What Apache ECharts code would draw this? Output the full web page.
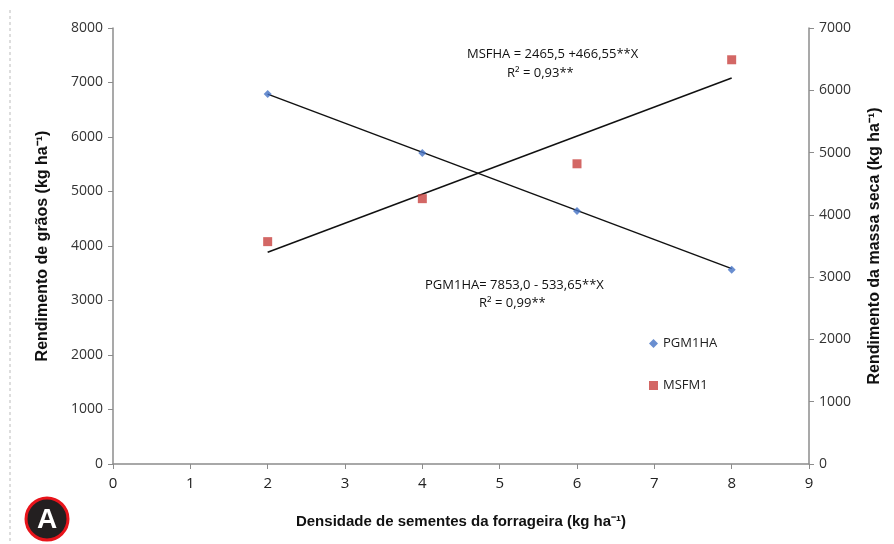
<!DOCTYPE html>
<html><head><meta charset="utf-8">
<script src="https://cdn.jsdelivr.net/npm/echarts@6/dist/echarts.min.js"></script>
<style>html,body{margin:0;padding:0;background:#fff}#c{width:894px;height:544px}</style>
</head><body><div id="c"></div>
<script>
var densidade = [2, 4, 6, 8];
var pgm1ha = [6790, 5705, 4640, 3565];
var msfm1 = [3570, 4260, 4820, 6490];
var trendPGM = [[2, 6786], [8, 3584]];
var trendMSF = [[2, 3399], [8, 6198]];
var xTicks = [0, 1, 2, 3, 4, 5, 6, 7, 8, 9];

var chart = echarts.init(document.getElementById('c'));
var axisLine = {show: true, lineStyle: {color: '#8c8c8c', width: 1.5}};
var tickFont = {color: '#333', fontFamily: 'Open Sans', fontSize: 14, formatter: function (v) { return String(v); }};
chart.setOption({
  animation: false,
  grid: {left: 113, right: 85, top: 28, bottom: 80},
  legend: {
    orient: 'vertical', left: 644, top: 332, itemGap: 29,
    itemWidth: 9, itemHeight: 9,
    textStyle: {fontFamily: 'Open Sans', fontSize: 13, color: '#222'},
    data: [{name: 'PGM1HA', icon: 'diamond'}, {name: 'MSFM1', icon: 'rect'}]
  },
  xAxis: {
    type: 'value', min: 0, max: 9, interval: 1,
    axisLine: axisLine, axisTick: {show: true, length: 5, lineStyle: {color: '#8c8c8c'}},
    splitLine: {show: false},
    axisLabel: {color: '#222', fontFamily: 'Open Sans', fontSize: 15, margin: 12},
    name: 'Densidade de sementes da forrageira (kg ha⁻¹)', nameLocation: 'middle', nameGap: 50,
    nameTextStyle: {fontFamily: 'Liberation Sans', fontWeight: 'bold', fontSize: 15, color: '#111'}
  },
  yAxis: [{
    type: 'value', min: 0, max: 8000, interval: 1000,
    axisLine: axisLine, axisTick: {show: true, length: 5, lineStyle: {color: '#8c8c8c'}},
    splitLine: {show: false}, axisLabel: Object.assign({margin: 10}, tickFont),
    name: 'Rendimento de grãos (kg ha⁻¹)', nameLocation: 'middle', nameGap: 62,
    nameTextStyle: {fontFamily: 'Liberation Sans', fontWeight: 'bold', fontSize: 16, color: '#111'}
  }, {
    type: 'value', min: 0, max: 7000, interval: 1000, position: 'right',
    axisLine: axisLine, axisTick: {show: true, length: 5, lineStyle: {color: '#8c8c8c'}},
    splitLine: {show: false}, axisLabel: Object.assign({margin: 10}, tickFont),
    name: 'Rendimento da massa seca (kg ha⁻¹)', nameLocation: 'middle', nameGap: 58,
    nameTextStyle: {fontFamily: 'Liberation Sans', fontWeight: 'bold', fontSize: 16, color: '#111'}
  }],
  series: [{
    name: 'PGM1HA', type: 'scatter', yAxisIndex: 0, symbol: 'diamond', symbolSize: 8,
    itemStyle: {color: '#4472C4'}, z: 5,
    data: densidade.map(function (d, i) { return [d, pgm1ha[i]]; })
  }, {
    name: 'MSFM1', type: 'scatter', yAxisIndex: 1, symbol: 'rect', symbolSize: 9,
    itemStyle: {color: '#C8413E'}, z: 5,
    data: densidade.map(function (d, i) { return [d, msfm1[i]]; })
  }, {
    name: 'trendPGM', type: 'line', yAxisIndex: 0, symbol: 'none',
    lineStyle: {color: '#111', width: 1.5}, data: trendPGM
  }, {
    name: 'trendMSF', type: 'line', yAxisIndex: 1, symbol: 'none',
    lineStyle: {color: '#111', width: 1.5}, data: trendMSF
  }],
  graphic: [
    {type: 'text', left: 467, top: 48, style: {text: 'MSFHA = 2465,5 +466,55**X', fontFamily: 'Open Sans', fontSize: 13, fill: '#111'}},
    {type: 'text', left: 507, top: 67, style: {text: 'R² = 0,93**', fontFamily: 'Open Sans', fontSize: 13, fill: '#111'}},
    {type: 'text', left: 425, top: 279, style: {text: 'PGM1HA= 7853,0 - 533,65**X', fontFamily: 'Open Sans', fontSize: 13, fill: '#111'}},
    {type: 'text', left: 479, top: 297, style: {text: 'R² = 0,99**', fontFamily: 'Open Sans', fontSize: 13, fill: '#111'}},
    {type: 'line', shape: {x1: 10, y1: 10, x2: 10, y2: 544}, style: {stroke: '#bbb', lineDash: [3, 3], lineWidth: 1}},
    {type: 'circle', shape: {cx: 47, cy: 519, r: 21}, style: {fill: '#231f20', stroke: '#e8141b', lineWidth: 3}},
    {type: 'text', x: 47, y: 520, style: {text: 'A', fontFamily: 'Liberation Sans', fontWeight: 'bold', fontSize: 28, fill: '#fff', align: 'center', verticalAlign: 'middle'}}
  ]
});
</script></body></html>
